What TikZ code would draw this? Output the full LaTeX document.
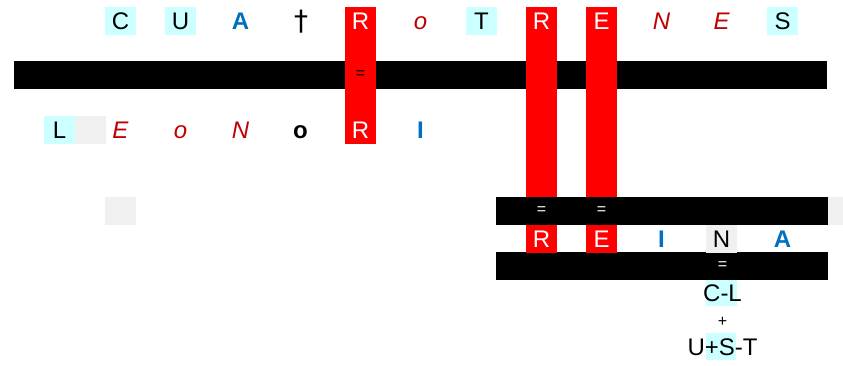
\documentclass[tikz,border=0pt]{standalone}
\usepackage{fontspec}
\setmainfont{Liberation Sans}
\newfontfamily\crossfont{DejaVu Sans}
\usepackage{xcolor}
\definecolor{cellcyan}{RGB}{204,255,255}
\definecolor{cellgrey}{RGB}{240,240,240}
\definecolor{cellred}{RGB}{255,0,0}
\definecolor{lettred}{RGB}{192,0,0}
\definecolor{lettblue}{RGB}{0,112,192}
\usepackage{tikz}

\begin{document}
\begin{tikzpicture}[
  x=1pt, y=-1pt,
  letter/.style={
    rectangle, inner sep=0pt,
    minimum width=31pt, minimum height=28pt,
    text height=17.2pt, text depth=0pt,
    font=\fontsize{24}{24}\selectfont
  },
  cyanbox/.style={letter, fill=cellcyan},
  greybox/.style={letter, fill=cellgrey},
  redbox/.style={letter, fill=cellred, text=white},
  itred/.style={letter, text=lettred, font=\fontsize{24}{24}\selectfont\itshape},
  blbold/.style={letter, text=lettblue, font=\fontsize{24}{24}\selectfont\bfseries},
  bkbold/.style={letter, font=\fontsize{24}{24}\selectfont\bfseries},
  eqsign/.style={inner sep=0pt, font=\fontsize{16}{16}\selectfont}
]
\useasboundingbox (0,0) rectangle (843,366);

% bars and red columns
\fill (14,61) rectangle (827,89);
\fill (496,197) rectangle (828,225);
\fill (496,252) rectangle (828,280);
\fill[cellgrey] (828,197) rectangle (843,225);
\fill[cellred] (345,7) rectangle (376,144);
\fill[cellred] (526,7) rectangle (557,197);
\fill[cellred] (586,7) rectangle (617,197);

% top row
\node[cyanbox] (tc)  at (120.5,21) {C};
\node[cyanbox] (tu)  at (180.5,21) {U};
\node[blbold]  (ta)  at (240.5,21) {A};
\node[letter, text height=20pt, font=\fontsize{28}{28}\crossfont] (td) at (301,21) {†};
\node[redbox]  (tr1) at (360.5,21) {R};
\node[itred]   (to)  at (420.5,21) {o};
\node[cyanbox] (tt)  at (481.5,21) {T};
\node[redbox]  (tr2) at (541.5,21) {R};
\node[redbox]  (te1) at (601.5,21) {E};
\node[itred]   (tn)  at (661.5,21) {N};
\node[itred]   (te2) at (721.5,21) {E};
\node[cyanbox] (ts)  at (782.5,21) {S};

\node[eqsign] (eq1) at (360.5,75) {=};

% middle row
\node[cyanbox] (ml)  at (59.5,130) {L};
\node[greybox] (mg)  at (90.5,130) {};
\node[itred]   (me)  at (120.5,130) {E};
\node[itred]   (mo1) at (180.5,130) {o};
\node[itred]   (mn)  at (240.5,130) {N};
\node[bkbold]  (mo2) at (300.5,130) {o};
\node[redbox]  (mr)  at (360.5,130) {R};
\node[blbold]  (mi)  at (420.5,130) {I};

\node[greybox] (lg)  at (120.5,211) {};
\node[eqsign, text=white] (eq2) at (541.5,211) {=};
\node[eqsign, text=white] (eq3) at (601.5,211) {=};

% bottom row
\node[redbox]  (br)  at (541.5,238.5) {R};
\node[redbox]  (be)  at (601.5,238.5) {E};
\node[blbold]  (bi)  at (661.5,238.5) {I};
\node[greybox] (bn)  at (721.5,238.5) {N};
\node[blbold]  (ba)  at (782.5,238.5) {A};

\node[eqsign, text=white] (eq4) at (722.5,266) {=};

\node[cyanbox, minimum height=26pt] (clbox) at (721.5,293) {};
\node[letter] (cl) at (722.5,293) {C-L};
\node[eqsign] (plus) at (722.5,322) {+};
\node[cyanbox, minimum width=30pt, minimum height=27pt] (ustbox) at (721,346.5) {};
\node[letter] (ust) at (722.5,346.5) {U+S-T};
\end{tikzpicture}
\end{document}
